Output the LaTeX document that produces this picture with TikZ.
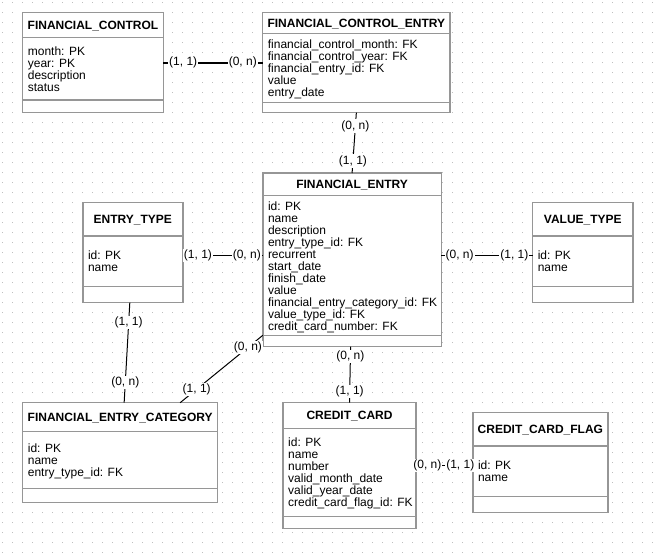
\documentclass[tikz,border=0pt]{standalone}
\usepackage{fontspec}
\setmainfont{Liberation Sans}
\definecolor{boxgray}{RGB}{150,150,150}
\definecolor{dotgray}{RGB}{190,190,190}
\tikzset{
  ebox/.style={draw=boxgray, line width=1.5pt, fill=white, inner sep=0pt, outer sep=0pt},
  esep/.style={draw=boxgray, line width=1.5pt},
  etitle/.style={font=\fontsize{12}{12}\selectfont\bfseries, inner sep=0pt, anchor=base},
  eattr/.style={font=\fontsize{12}{12}\selectfont, inner sep=0pt, anchor=base west},
  rel/.style={draw=black, line width=1pt},
  card/.style={font=\fontsize{12}{12}\selectfont, fill=white, inner sep=1pt}
}
\newcommand\entity[8]{%
  \node[ebox, minimum width={#4-#2}, minimum height={#5-#3}, anchor=north west] (#1) at (#2,#3) {};
  \draw[esep] (#2,#6) -- (#4,#6);
  \draw[esep] (#2,#7) -- (#4,#7);
  \coordinate (#1-s2w) at (#2,#7);
  \node[etitle] (#1-t) at ({(#2+#4)/2},{(#3+#6)/2+4.3}) {#8};
}
\newcommand\eattrs[4]{%
  \foreach \a [count=\i] in {#4} {
    \node[eattr] (#1-a\i) at ({#2+5},{#3+12*(\i-1)}) {\a};
  }
}
\begin{document}
\begin{tikzpicture}[x=1pt,y=-1pt]
\useasboundingbox (0,0) rectangle (656,557);
\fill[white] (0,0) rectangle (656,557);
% dotted grid
\foreach \r in {0,...,55} {
  \draw[dotgray, line width=1pt, dash pattern=on 1pt off 9pt] (2.2,{2.7+10*\r}) -- (656,{2.7+10*\r});
}
% entities
\entity{fc}{22.7}{12.7}{163.3}{112.7}{37.3}{100}{FINANCIAL\_CONTROL}
\eattrs{fc}{22.7}{55}{month: PK,year: PK,description,status}
\entity{fce}{262.7}{12.7}{450}{112.7}{33.3}{102.3}{FINANCIAL\_CONTROL\_ENTRY}
\eattrs{fce}{262.7}{48.8}{financial\_control\_month: FK,financial\_control\_year: FK,financial\_entry\_id: FK,value,entry\_date}
\entity{fe}{262.8}{173}{441.4}{346.7}{195.7}{335.3}{FINANCIAL\_ENTRY}
\eattrs{fe}{262.8}{210.5}{id: PK,name,description,entry\_type\_id: FK,recurrent,start\_date,finish\_date,value,financial\_entry\_category\_id: FK,value\_type\_id: FK,credit\_card\_number: FK}
\entity{et}{82.8}{202.7}{182.8}{302.7}{236}{286.7}{ENTRY\_TYPE}
\eattrs{et}{82.8}{259.5}{id: PK,name}
\entity{vt}{532.6}{202.7}{633}{302.7}{236}{286.7}{VALUE\_TYPE}
\eattrs{vt}{532.6}{259.5}{id: PK,name}
\entity{fec}{22.7}{402.7}{217.6}{502.7}{431.7}{488.3}{FINANCIAL\_ENTRY\_CATEGORY}
\eattrs{fec}{22.7}{452.8}{id: PK,name,entry\_type\_id: FK}
\entity{cc}{283}{402.7}{416}{528.3}{428.3}{516.7}{CREDIT\_CARD}
\eattrs{cc}{283}{446.2}{id: PK,name,number,valid\_month\_date,valid\_year\_date,credit\_card\_flag\_id: FK}
\entity{ccf}{472.8}{412.7}{608}{512.7}{446}{496.7}{CREDIT\_CARD\_FLAG}
\eattrs{ccf}{472.8}{469}{id: PK,name}
% relationships
\draw[rel, line width=1.6pt] (fc.east) -- (fce.west)
  node[card, pos=0.2] (l1a) {(1, 1)} node[card, pos=0.8] (l1b) {(0, n)};
\draw[rel] (fce.south) -- (fe.north)
  node[card, pos=0.22] (l2a) {(0, n)} node[card, pos=0.8] (l2b) {(1, 1)};
\coordinate (etc) at ([yshift=-3pt]et.east);
\draw[rel] (etc) -- (etc -| fe.west)
  node[card, pos=0.19] (l3a) {(1, 1)} node[card, pos=0.8] (l3b) {(0, n)};
\draw[rel] (etc -| fe.east) -- (etc -| vt.west)
  node[card, pos=0.2] (l4a) {(0, n)} node[card, pos=0.8] (l4b) {(1, 1)};
\draw[rel] ([xshift=-3pt]et.south) -- ([xshift=4pt]fec.north)
  node[card, pos=0.2] (l5a) {(1, 1)} node[card, pos=0.8] (l5b) {(0, n)};
\draw[rel] (fe-s2w) -- ([xshift=60pt]fec.north)
  node[card, pos=0.18] (l6a) {(0, n)} node[card, pos=0.8] (l6b) {(1, 1)};
\draw[rel] ([xshift=-1.5pt]fe.south) -- (cc.north)
  node[card, pos=0.18] (l7a) {(0, n)} node[card, pos=0.8] (l7b) {(1, 1)};
\draw[rel] (cc.east) -- (cc.east -| ccf.west)
  node[card, pos=0.2] (l8a) {(0, n)} node[card, pos=0.78] (l8b) {(1, 1)};
\end{tikzpicture}
\end{document}
